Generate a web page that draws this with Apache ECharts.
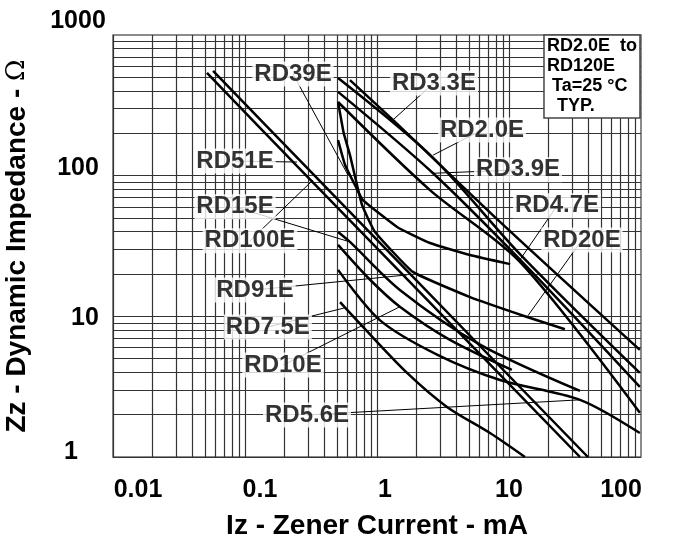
<!DOCTYPE html>
<html><head><meta charset="utf-8">
<script src="https://cdn.jsdelivr.net/npm/echarts@6/dist/echarts.min.js"></script>
<style>html,body{margin:0;padding:0;background:#fff}#c{width:677px;height:552px}</style>
</head><body><div id="c"></div>
<script>
// ---- data (Iz in mA, Zz in ohm) ----
const xTicks = [0.01, 0.1, 1, 10, 100];
const yTicks = [1, 10, 100, 1000];

const rd2_0E = [[0.507,494],[2.66,134],[12.1,27.7],[98,3.96]];
const rd3_3E = [[0.624,478],[1.32,249],[8.55,46.9],[98,5.77]];
const rd3_9E = [[0.507,394],[2.66,104],[14.4,21.4],[98,3.15]];
const rd4_7E = [[0.507,334],[2.52,79],[12.1,24.4],[98,2.06]];
const rd5_6E = [[0.507,21.4],[1.05,9.4],[2.9,5.3],[8.55,3.53],[34.5,2.55],[98,1.48]];
const rd7_5E = [[0.525,12.6],[0.783,8.4],[1.69,3.96],[3.39,2.27],[7.18,1.48],[13.2,1.0]];
const rd10E  = [[0.507,32.2],[0.886,18.2],[1.49,11.7],[3.57,6.8],[10.5,4.16]];
const rd15E  = [[0.507,39.8],[0.624,33.8],[1.49,15.4],[6.03,6.3],[34.5,2.95]];
const rd20E  = [[0.507,334],[0.56,200],[0.624,140],[0.77,61.9],[0.966,39.8],[1.87,20.7],[5.07,13.7],[13.7,9.9],[26.5,8.1]];
const rd39E  = [[0.507,179],[0.573,119],[0.68,85.9],[0.783,67],[1.42,43.2],[2.52,33.2],[5.07,27.3],[10.2,23.5]];
const rd91E  = [[0.0515,537],[0.248,117],[1.69,18.4],[34.5,1.0]];
const rd100E = [[0.0573,555],[0.327,103],[1.78,20.0],[39.6,1.0]];

const curveData = [rd2_0E, rd3_3E, rd3_9E, rd4_7E, rd5_6E, rd7_5E, rd10E, rd15E, rd20E, rd39E, rd91E, rd100E];
const steepCurves = [rd20E, rd39E];

// curve labels: anchor (centre) and pointer tip, in data units
const labelNames = ['RD39E','RD3.3E','RD2.0E','RD3.9E','RD4.7E','RD20E','RD51E','RD15E','RD100E','RD91E','RD7.5E','RD10E','RD5.6E'];
const labelAt = {
  'RD39E':[0.231,528], 'RD3.3E':[2.70,456], 'RD2.0E':[6.24,211], 'RD3.9E':[11.7,110],
  'RD4.7E':[23.1,61], 'RD20E':[35.7,34.9], 'RD51E':[0.084,127], 'RD15E':[0.084,60],
  'RD100E':[0.109,34.4], 'RD91E':[0.119,15.4], 'RD7.5E':[0.149,8.4], 'RD10E':[0.194,4.5],
  'RD5.6E':[0.295,1.99]
};
const pointerTip = {
  'RD39E':[0.603,101], 'RD3.3E':[1.32,249], 'RD2.0E':[2.66,140], 'RD3.9E':[2.66,104],
  'RD4.7E':[12.1,25.2], 'RD20E':[13.7,9.9], 'RD51E':[0.248,125], 'RD15E':[0.624,33.8],
  'RD100E':[0.327,93], 'RD91E':[1.69,19.7], 'RD7.5E':[0.573,11.5], 'RD10E':[1.49,11.7],
  'RD5.6E':[34.5,2.55]
};

// ---- grid line positions (log decades 1..9) ----
const xGrid = [], yGrid = [];
[0.01,0.1,1,10].forEach(d => { for (let k=1;k<=9;k++) xGrid.push(+(k*d).toPrecision(3)); });
[1,10,100].forEach(d => { for (let k=1;k<=9;k++) yGrid.push(+(k*d).toPrecision(3)); });

const chart = echarts.init(document.getElementById('c'), null, {renderer:'canvas'});
const FONT = 'Liberation Sans, Arial, sans-serif';
const gridLine = {color:'#333', width:1.2, type:'solid'};

const series = [];
series.push({
  type:'line', data:[], silent:true,
  markLine:{ silent:true, symbol:['none','none'], label:{show:false}, lineStyle:gridLine, animation:false,
    data: xGrid.map(v=>({xAxis:v})).concat(yGrid.map(v=>({yAxis:v}))) }
});
curveData.forEach(d=>{
  series.push({ type:'line', data:d, showSymbol:false, symbol:'none',
    smooth: steepCurves.includes(d) ? 0.12 : 0.3,
    lineStyle:{color:'#000', width:2.5}, z:5, animation:false });
});
series.push({
  type:'lines', coordinateSystem:'cartesian2d', z:6, animation:false, silent:true,
  lineStyle:{color:'#000', width:1, opacity:1},
  data: labelNames.map(n=>({coords:[labelAt[n], pointerTip[n]]}))
});
series.push({
  type:'scatter', symbolSize:0, z:10, animation:false, silent:true,
  data: labelNames.map(n=>({value:labelAt[n], name:n})),
  label:{show:true, position:'inside', formatter:p=>p.name, color:'#000', fontFamily:FONT,
    fontWeight:'bold', fontSize:24, backgroundColor:'#fff', padding:[1,2,0,2]}
});

// per-tick label nudges (rich styles)
const tickFont = {fontFamily:FONT,fontWeight:'bold',fontSize:25,color:'#000'};
const yRich = {
  y1000:{padding:[0,0,28,0]}, y100:{padding:[0,0,16,0]}, y10:{padding:[4,0,0,14]}, y1:{padding:[0,14,10,0]}
};
const xRich = {
  x0:{padding:[0,0,0,50]}, x1:{padding:[0,0,0,30]}, x2:{padding:[0,0,0,16]}, x3:{padding:[0,0,0,0]}, x4:{padding:[0,40,0,0]}
};
Object.values(yRich).forEach(s=>Object.assign(s,tickFont));
Object.values(xRich).forEach(s=>Object.assign(s,tickFont));

chart.setOption({
  animation:false,
  backgroundColor:'#fff',
  title:{ text:'RD2.0E  to\nRD120E\n Ta=25 °C\n  TYP.', right:37, top:35,
    backgroundColor:'#fff', borderColor:'#444', borderWidth:1.5, padding:[1,3,2,3], z:20,
    textStyle:{fontFamily:FONT, fontWeight:'bold', fontSize:18, lineHeight:20, color:'#000'} },
  grid:{ left:113, right:36, top:35, bottom:95, show:true, borderColor:'#666', borderWidth:1.5,
    backgroundColor:'transparent', containLabel:false, outerBoundsMode:'none' },
  xAxis:{ type:'log', logBase:10, min:0.01, max:100,
    axisLine:{show:false}, axisTick:{show:false}, splitLine:{show:false},
    axisLabel:{ margin:21, color:'#000', fontFamily:FONT, fontWeight:'bold', fontSize:25,
      formatter:v=>{ const t=+v.toPrecision(3); const i=xTicks.indexOf(t); return i<0 ? '' : '{x'+i+'|'+t+'}'; },
      rich:xRich },
    name:'Iz - Zener Current - mA', nameLocation:'middle', nameGap:55,
    nameTextStyle:{color:'#000', fontFamily:FONT, fontWeight:'bold', fontSize:28} },
  yAxis:{ type:'log', logBase:10, min:1, max:1000,
    axisLine:{show:false}, axisTick:{show:false}, splitLine:{show:false},
    axisLabel:{ margin:35, align:'center', color:'#000', fontFamily:FONT, fontWeight:'bold', fontSize:25,
      formatter:v=>{ const t=+v.toPrecision(3); return yTicks.includes(t) ? '{y'+t+'|'+t+'}' : ''; },
      rich:yRich },
    name:'Zz - Dynamic Impedance - {o|Ω}', nameLocation:'middle', nameGap:82,
    nameTextStyle:{color:'#000', fontFamily:FONT, fontWeight:'bold', fontSize:28,
      rich:{o:{fontFamily:'DejaVu Serif', fontWeight:'normal', fontSize:26, color:'#000'}}} },
  series
});
</script>
</body></html>
